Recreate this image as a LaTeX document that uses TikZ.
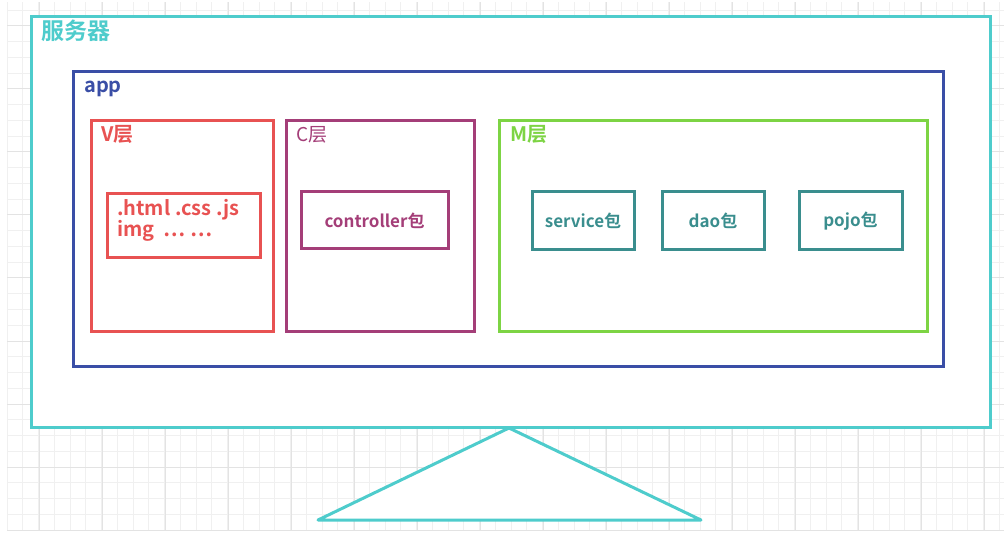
\documentclass[tikz,border=0pt]{standalone}
\usepackage{fontspec}
\setmainfont{Noto Sans CJK SC}
\newfontfamily\cjkb{Noto Sans CJK SC Bold}
\definecolor{srvc}{HTML}{4ECCCC}
\definecolor{appc}{HTML}{3A4EA6}
\definecolor{vc}{HTML}{E85252}
\definecolor{cc}{HTML}{A43E78}
\definecolor{mc}{HTML}{7DD444}
\definecolor{pkc}{HTML}{3A8E8E}
\definecolor{gridminor}{HTML}{F0F0F0}
\definecolor{gridmajor}{HTML}{E3E3E3}
\tikzset{
  box/.style={draw=#1, text=#1, line width=3pt, rectangle, inner sep=0pt, outer sep=0pt, anchor=north west, fill=white},
  lbl/.style={anchor=base west, inner sep=0pt, text=#1},
}
\begin{document}
\begin{tikzpicture}[x=1pt,y=-1pt]
\useasboundingbox (0,0) rectangle (1004,537);
% grid
\foreach \i in {0,...,63} {
  \pgfmathsetmacro{\xx}{7+15.75*\i}
  \ifdim\xx pt<1004pt
    \draw[gridminor, line width=1pt] (\xx,2) -- (\xx,530);
  \fi
}
\foreach \i in {0,...,33} {
  \pgfmathsetmacro{\yy}{530-15.75*\i}
  \draw[gridminor, line width=1pt] (7,\yy) -- (1004,\yy);
}
\foreach \i in {0,...,15} {
  \pgfmathsetmacro{\xx}{39+63*\i}
  \draw[gridmajor, line width=1pt] (\xx,2) -- (\xx,530);
}
\foreach \i in {0,...,8} {
  \pgfmathsetmacro{\yy}{530-63*\i}
  \draw[gridmajor, line width=1pt] (7,\yy) -- (1004,\yy);
}
% server
\node[box=srvc, minimum width=959pt, minimum height=410pt] (server) at (31,17) {};
\node[lbl=srvc, font=\cjkb\fontsize{23}{23}\selectfont] (serverlbl) at (41,40) {服务器};
% stand
\coordinate (apex) at (509,428);
\coordinate (bl) at (318,520);
\coordinate (br) at (701,520);
\draw[srvc, line width=3pt, fill=white, line join=round] (apex) -- (br) -- (bl) -- cycle;
% app
\node[box=appc, minimum width=870pt, minimum height=294pt] (app) at (73,72) {};
\node[lbl=appc, font=\cjkb\fontsize{20}{20}\selectfont] (applbl) at (84,93) {app};
% V
\node[box=vc, minimum width=182pt, minimum height=211pt] (vl) at (91,121) {};
\node[lbl=vc, font=\cjkb\fontsize{20}{20}\selectfont] (vlbl) at (101,142) {V层};
\node[box=vc, minimum width=153pt, minimum height=64pt] (vin) at (107,194) {};
\node[lbl=vc, font=\cjkb\fontsize{20}{21}\selectfont] (vtxt1) at (117,216) {.html .css .js};
\node[lbl=vc, font=\cjkb\fontsize{20}{21}\selectfont] (vtxt2) at (117,237) {img~~… …};
% C
\node[box=cc, minimum width=188pt, minimum height=211pt] (cl) at (286,121) {};
\node[lbl=cc, font=\fontsize{19}{19}\selectfont] (clbl) at (296,142) {C层};
\node[box=cc, minimum width=147pt, minimum height=57pt, font=\cjkb\fontsize{17}{17}\selectfont] (ctrl) at (301,192) {controller包};
% M
\node[box=mc, minimum width=428pt, minimum height=211pt] (ml) at (499,121) {};
\node[lbl=mc, font=\cjkb\fontsize{20}{20}\selectfont] (mlbl) at (510,142) {M层};
\node[box=pkc, minimum width=102pt, minimum height=58pt, font=\cjkb\fontsize{17}{17}\selectfont] (svc) at (532,192) {service包};
\node[box=pkc, minimum width=102pt, minimum height=58pt, font=\cjkb\fontsize{17}{17}\selectfont] (dao) at (662,192) {dao包};
\node[box=pkc, minimum width=103pt, minimum height=58pt, font=\cjkb\fontsize{17}{17}\selectfont] (pojo) at (799,192) {pojo包};
\end{tikzpicture}
\end{document}
